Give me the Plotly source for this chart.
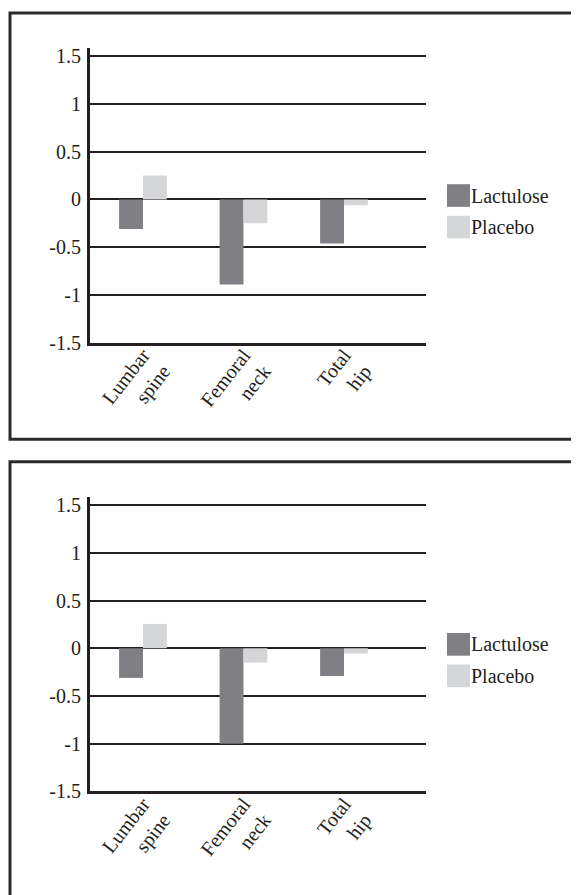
import plotly.graph_objects as go

# ---------------- data ----------------
categories = ["Lumbar<br>spine", "Femoral<br>neck", "Total<br>hip"]
series_names = ["Lactulose", "Placebo"]
top_lactulose = [-0.31, -0.89, -0.46]
top_placebo = [0.25, -0.25, -0.06]
bottom_lactulose = [-0.31, -1.0, -0.29]
bottom_placebo = [0.255, -0.15, -0.055]
y_tick_vals = [-1.5, -1, -0.5, 0, 0.5, 1, 1.5]
y_tick_text = ["-1.5", "-1", "-0.5", "0", "0.5", "1", "1.5"]
series_colors = ["#7f7f84", "#d5d6d8"]

# ---------------- layout helpers ----------------
# page has an 8px body margin, so the figure is shifted; compensate
PAGE_OFF = 8
W, H = 579 - PAGE_OFF, 895 - PAGE_OFF
INK = "#231f20"
FONT = "Liberation Serif"


def px(x):
    return (x - PAGE_OFF) / W


def py(y):
    return 1 - (y - PAGE_OFF) / H


fig = go.Figure()

panels = [
    (top_lactulose, top_placebo, "x", "y"),
    (bottom_lactulose, bottom_placebo, "x2", "y2"),
]
for lac, pla, xa, ya in panels:
    for name, vals, col in zip(series_names, [lac, pla], series_colors):
        fig.add_trace(go.Bar(x=categories, y=vals, name=name, marker_color=col,
                             marker_line_width=0, xaxis=xa, yaxis=ya,
                             showlegend=False))

x_range = [-0.527, 2.816]
y_range = [-1.5, 1.582]

axis_common_x = dict(type="category", range=x_range, showgrid=False, zeroline=False,
                     showline=True, linewidth=3, linecolor=INK, ticks="",
                     tickangle=-52, ticklabelstandoff=-10,
                     tickfont=dict(family=FONT, size=20, color=INK))
axis_common_y = dict(range=y_range, tickvals=y_tick_vals, ticktext=y_tick_text,
                     showgrid=True, gridcolor=INK, gridwidth=1.5, zeroline=False,
                     showline=True, linewidth=3, linecolor=INK, ticks="",
                     ticklabelstandoff=2,
                     tickfont=dict(family=FONT, size=20, color=INK))

fig.update_layout(
    width=W, height=H,
    margin=dict(l=0, r=0, t=0, b=0),
    paper_bgcolor="white", plot_bgcolor="rgba(0,0,0,0)",
    font=dict(family=FONT, color=INK),
    barmode="group", bargap=0.525, bargroupgap=0,
    showlegend=False,
    xaxis=dict(axis_common_x, domain=[px(90), px(426)], anchor="y"),
    yaxis=dict(axis_common_y, domain=[py(345), py(46)], anchor="x"),
    xaxis2=dict(axis_common_x, domain=[px(90), px(426)], anchor="y2"),
    yaxis2=dict(axis_common_y, domain=[py(801), py(502)], anchor="x2"),
)

shapes = []
annotations = []
for off, y_bottom in [(0, 443), (456, 930)]:
    shapes.append(dict(type="rect", xref="paper", yref="paper",
                       x0=px(10), x1=px(610), y0=py(10 + off), y1=py(y_bottom),
                       line=dict(color="#2b2b2b", width=3), fillcolor="rgba(0,0,0,0)"))
    for i, (name, col) in enumerate(zip(series_names, series_colors)):
        top = 184 + off + i * 32
        shapes.append(dict(type="rect", xref="paper", yref="paper",
                           x0=px(447), x1=px(470), y0=py(top), y1=py(top + 23),
                           line=dict(width=0), fillcolor=col))
        annotations.append(dict(xref="paper", yref="paper", x=px(468.5), y=py(top + 11.5),
                                text=name, showarrow=False, xanchor="left", yanchor="middle",
                                font=dict(family=FONT, size=20, color=INK)))

fig.update_layout(shapes=shapes, annotations=annotations)
fig.write_html("out.html")
